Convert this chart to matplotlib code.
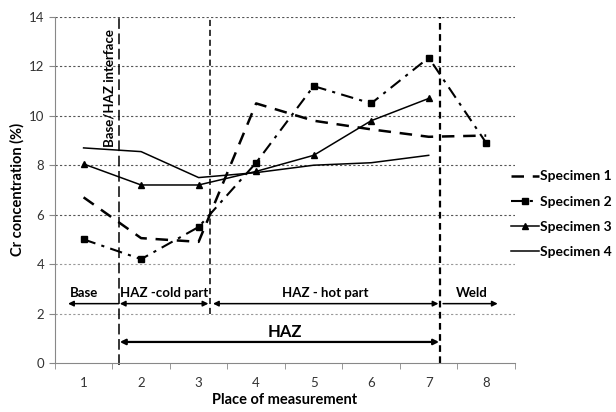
import matplotlib.pyplot as plt
import numpy as np

plt.rcParams['font.family'] = ['Lato', 'DejaVu Sans']

# data
places = [1, 2, 3, 4, 5, 6, 7, 8]
specimen1 = [6.7, 5.05, 4.9, 10.5, 9.8, 9.45, 9.15, 9.2]
specimen2 = [5.0, 4.2, 5.5, 8.1, 11.2, 10.5, 12.35, 8.9]
places_short = [1, 2, 3, 4, 5, 6, 7]
specimen3 = [8.05, 7.2, 7.2, 7.75, 8.4, 9.8, 10.7]
specimen4 = [8.7, 8.55, 7.5, 7.7, 8.0, 8.1, 8.4]

# zone boundaries (in place units)
bound_interface = 1.61
bound_cold_hot = 3.2
bound_weld = 7.2

fig = plt.figure(figsize=(6.16, 4.12), dpi=100)
ax = fig.add_axes([0.089, 0.119, 0.747, 0.840])

ax.set_xlim(0.5, 8.5)
ax.set_ylim(0, 14)

# grid
for yv in range(2, 15, 2):
    ax.axhline(yv, color='#555555' if yv >= 6 else '#999999', lw=0.8,
               ls=(0, (2, 2)), zorder=0)

ax.plot(places, specimen1, color='black', lw=1.8, ls=(0, (5, 3.5)),
        label='Specimen 1')
ax.plot(places, specimen2, color='black', lw=1.5, ls=(0, (6, 3, 1.5, 3)),
        marker='s', ms=5, label='Specimen 2')
ax.plot(places_short, specimen3, color='black', lw=1.1, marker='^', ms=4.5,
        label='Specimen 3')
ax.plot(places_short, specimen4, color='black', lw=1.1, label='Specimen 4')

# zone separators
ax.plot([bound_interface, bound_interface], [-0.1, 14], color='black', lw=1.1,
        ls=(0, (7, 3)), clip_on=False)
ax.plot([bound_cold_hot, bound_cold_hot], [2, 14], color='black', lw=1.1,
        ls=(0, (4, 2.5)))
ax.plot([bound_weld, bound_weld], [0, 14], color='black', lw=1.6,
        ls=(0, (3, 2)))

ax.text(bound_interface - 0.16, 13.5, 'Base/HAZ interface', rotation=90,
        ha='center', va='top', fontsize=9.5, fontweight='bold')

# zone arrows
arrow_y = 2.4
def harrow(x0, x1, y, style, lw=1.1):
    ax.annotate('', xy=(x1, y), xytext=(x0, y),
                arrowprops=dict(arrowstyle=style, color='black', lw=lw,
                                shrinkA=0, shrinkB=0,
                                mutation_scale=8))

harrow(bound_interface, 0.73, arrow_y, '-|>')
harrow(bound_interface + 0.02, bound_cold_hot - 0.03, arrow_y, '<|-|>')
harrow(bound_cold_hot + 0.05, bound_weld - 0.03, arrow_y, '<|-|>')
harrow(bound_weld + 0.05, 8.2, arrow_y, '-|>')
harrow(bound_interface + 0.02, bound_weld - 0.02, 0.85, '<|-|>', lw=1.6)

ax.text(1.0, 2.85, 'Base', ha='center', va='center', fontsize=9.5, fontweight='bold')
ax.text(2.4, 2.85, 'HAZ -cold part', ha='center', va='center', fontsize=9.5, fontweight='bold')
ax.text(5.2, 2.85, 'HAZ - hot part', ha='center', va='center', fontsize=9.5, fontweight='bold')
ax.text(7.75, 2.85, 'Weld', ha='center', va='center', fontsize=9.5, fontweight='bold')
ax.text(4.5, 1.25, 'HAZ', ha='center', va='center', fontsize=12, fontweight='bold')

# axes styling
for side in ['top', 'right']:
    ax.spines[side].set_visible(False)
for side in ['left', 'bottom']:
    ax.spines[side].set_color('#888888')
ax.set_xticks(places)
ax.set_xticks(np.arange(0.5, 9.0, 1.0), minor=True)
ax.tick_params(axis='x', which='major', length=0, pad=10, labelsize=9.5,
               labelcolor='#333333')
ax.tick_params(axis='x', which='minor', length=4, color='#888888')
ax.set_yticks(range(0, 15, 2))
ax.tick_params(axis='y', length=4, color='#888888', labelsize=9.5,
               labelcolor='#333333')

ax.set_xlabel('Place of measurement', fontsize=10.5, fontweight='bold', labelpad=3)
ax.set_ylabel('Cr concentration (%)', fontsize=10.5, fontweight='bold', labelpad=3)

leg = ax.legend(loc='center left', bbox_to_anchor=(0.98, 0.43), frameon=False,
                prop={'weight': 'bold', 'size': 10}, handlelength=2.0,
                handletextpad=0.1, labelspacing=0.95, borderaxespad=0)

fig.savefig('out.png', dpi=100, facecolor='white')
